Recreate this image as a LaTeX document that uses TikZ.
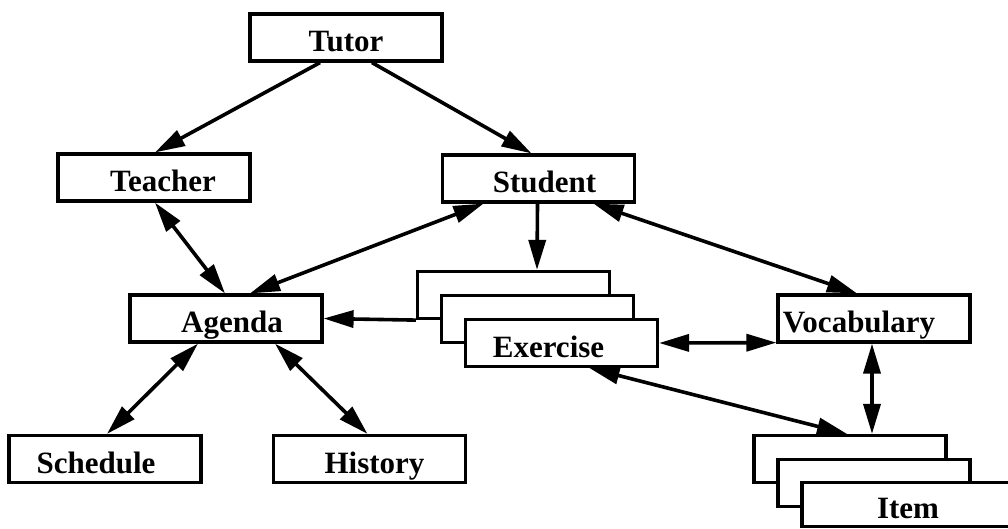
\documentclass[tikz,border=0pt]{standalone}
\usepackage{fontspec}
\setmainfont{Liberation Serif}
\usetikzlibrary{positioning, arrows, arrows.meta}
\tikzset{
    >={Triangle[length=30pt, width=17pt]}, % Big filled arrowheads
    every node/.style={font=\bfseries\fontsize{31}{36}\selectfont}, % Bold serif labels
    link/.style={draw, line width=3.6pt}, % Thick connectors
    box/.style={draw, line width=3.2pt, fill=white,
        minimum width=192pt, minimum height=47pt, inner sep=0pt,
        text height=28pt, text depth=0pt}, % Class boxes, text sits low
}

\begin{document}
\begin{tikzpicture}[x=1pt, y=-1pt]
    \path[use as bounding box, clip] (0,0) rectangle (1008,528);

    \node[box] (tutor) at (346,37.5) {Tutor};
    \node[box] (teacher) at (154,177.5) {\hspace*{18pt}Teacher};
    \node[box] (student) at (538.5,178.5) {\hspace*{12pt}Student};
    \node[box] (agenda) at (226,318.5) {\hspace*{12pt}Agenda};
    \node[box] (schedule) at (105,459) {\hspace*{-18pt}Schedule};
    \node[box] (history) at (369.5,459) {\hspace*{10pt}History};

    % stacked exercise boxes
    \node[box] (ex1) at (513.5,295) {};
    \node[box] (ex2) [xshift=24pt, yshift=-24pt] at (ex1) {};
    \node[box] (ex) [xshift=24pt, yshift=-24pt] at (ex2) {\hspace*{-26pt}Exercise};

    \node[box] (voc) at (874,318.5) {\hspace*{-30pt}Vocabulary};

    % stacked item boxes
    \node[box] (it1) at (850,459) {};
    \node[box] (it2) [xshift=24pt, yshift=-24pt] at (it1) {};
    \node[box, minimum width=220pt, minimum height=44pt] (item) at (912,504.5) {\hspace*{-8pt}Item};

    \path
        ([xshift=-26pt]tutor.south) edge [link, ->] ([xshift=1pt]teacher.north)
        ([xshift=26pt]tutor.south) edge [link, ->] ([xshift=-7pt]student.north)
        ([xshift=-1pt]student.south) edge [link, ->] ([xshift=23.5pt]ex1.north)
        (ex1.south west) edge [link, ->] (agenda.east)
        ([xshift=1pt]teacher.south) edge [link, <->] ([xshift=-1pt]agenda.north)
        ([xshift=-55pt]student.south) edge [link, <->] ([xshift=24pt]agenda.north)
        ([xshift=55pt]student.south) edge [link, <->] ([xshift=-17pt]voc.north)
        (ex.east) edge [link, <->] ([yshift=1pt]voc.south west)
        ([xshift=28pt]ex.south) edge [link, <->] ([xshift=-3pt]it1.north)
        ([xshift=-2pt]voc.south) edge [link, <->] ([xshift=22pt]it1.north)
        ([xshift=-28pt]agenda.south) edge [link, <->] ([xshift=2pt]schedule.north)
        ([xshift=49pt]agenda.south) edge [link, <->] ([xshift=-2pt]history.north);
\end{tikzpicture}
\end{document}
